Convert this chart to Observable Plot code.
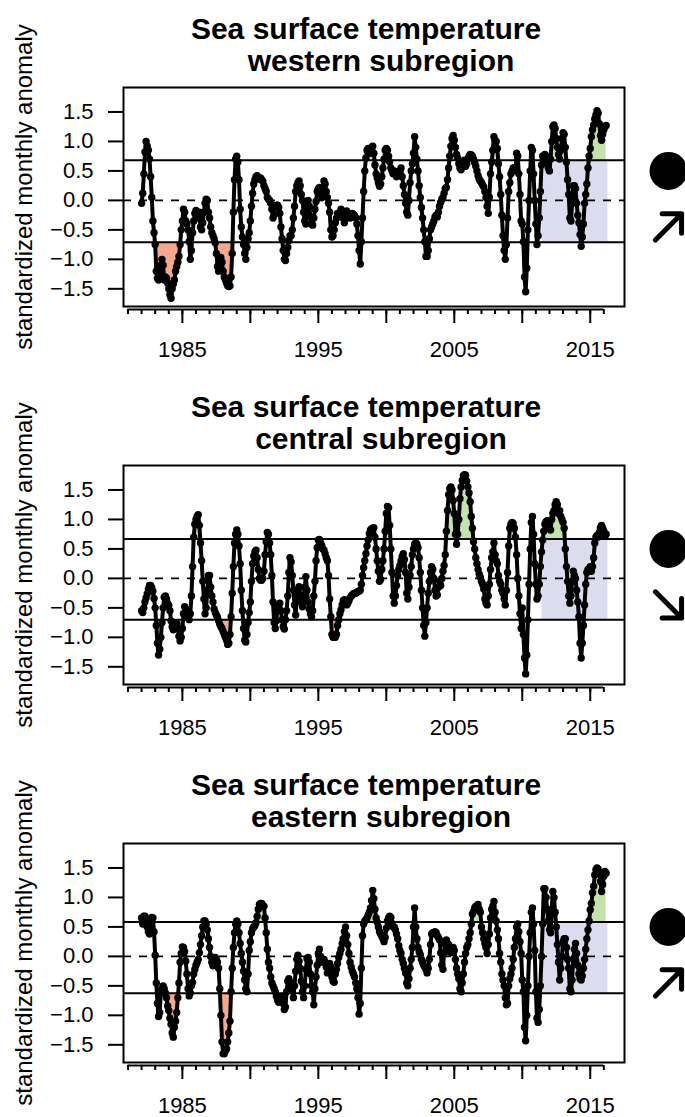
<!DOCTYPE html>
<html>
<head>
<meta charset="utf-8">
<script src="https://cdn.jsdelivr.net/npm/d3@7"></script>
<script src="https://cdn.jsdelivr.net/npm/@observablehq/plot@0.6"></script>
<style>
  html, body { margin: 0; padding: 0; background: #fff; overflow: hidden; }
  #chart svg { display: block; }
</style>
</head>
<body>
<div id="chart"></div>
<script>
// Standardized monthly SST anomalies, one value per month starting January 1982.
const firstYear = 1982;

const western = [
  -0.05, 0.12, 0.45, 0.82, 1.0, 0.92, 0.85, 0.7, 0.4, 0.05, -0.35, -0.55,
  -0.75, -1.2, -1.32, -1.35, -1.3, -1.1, -1.0, -1.1, -1.35, -1.3, -1.32, -1.4,
  -1.5, -1.6, -1.66, -1.5, -1.42, -1.35, -1.2, -1.12, -1.05, -0.95, -0.75, -0.5,
  -0.35, -0.15, -0.2, -0.35, -0.4, -0.5, -0.7, -1.0, -0.85, -0.55, -0.35, -0.22,
  -0.17, -0.25, -0.3, -0.2, -0.45, -0.5, -0.38, -0.2, -0.05, 0.02, 0.0, -0.2,
  -0.3, -0.45, -0.55, -0.6, -0.65, -0.72, -0.9, -1.12, -1.2, -1.1, -0.97, -1.05,
  -1.2, -1.3, -1.35, -1.4, -1.45, -1.46, -1.45, -1.3, -0.9, -0.2, 0.35, 0.7,
  0.75, 0.65, 0.35, -0.15, -0.45, -0.62, -0.75, -0.9, -1.0, -0.8, -0.65, -0.55,
  -0.35, -0.1, 0.12, 0.28, 0.35, 0.4, 0.42, 0.38, 0.36, 0.38, 0.35, 0.32,
  0.25, 0.2, 0.15, 0.05, 0.02, 0.0, -0.05, -0.15, -0.3, -0.25, -0.1, -0.08,
  -0.08, -0.12, -0.22, -0.45, -0.65, -0.85, -1.0, -1.02, -0.9, -0.8, -0.68, -0.6,
  -0.6, -0.5, -0.3, -0.1, 0.15, 0.25, 0.3, 0.33, 0.25, 0.1, 0.0, -0.2,
  -0.35, -0.4, -0.1, 0.0, -0.1, -0.28, -0.4, -0.42, -0.3, -0.15, -0.02, 0.15,
  0.2, 0.22, 0.12, 0.05, 0.2, 0.33, 0.28, 0.15, 0.05, -0.05, -0.2, -0.5,
  -0.62, -0.6, -0.5, -0.38, -0.3, -0.22, -0.28, -0.22, -0.15, -0.2, -0.3, -0.38,
  -0.2, -0.18, -0.22, -0.28, -0.3, -0.25, -0.22, -0.24, -0.26, -0.3, -0.4, -0.6,
  -0.85, -1.08, -0.7, -0.3, 0.15, 0.5, 0.72, 0.85, 0.88, 0.85, 0.8, 0.9,
  0.92, 0.8, 0.6, 0.45, 0.38, 0.3, 0.24, 0.28, 0.4, 0.55, 0.7, 0.85,
  0.88, 0.85, 0.75, 0.65, 0.55, 0.5, 0.45, 0.5, 0.48, 0.4, 0.42, 0.45,
  0.5, 0.55, 0.4, 0.25, 0.1, -0.05, -0.2, -0.25, 0.0, 0.3, 0.5, 0.62,
  0.8, 1.08, 0.9, 0.7, 0.5, 0.25, 0.05, -0.12, -0.3, -0.5, -0.7, -0.95,
  -0.95, -0.85, -0.65, -0.5, -0.45, -0.4, -0.35, -0.28, -0.25, -0.28, -0.2, -0.1,
  -0.03, 0.02, 0.05, 0.12, 0.2, 0.22, 0.35, 0.55, 0.75, 0.92, 1.05, 1.1,
  1.02, 0.9, 0.78, 0.72, 0.62, 0.55, 0.52, 0.6, 0.65, 0.68, 0.58, 0.62,
  0.7, 0.75, 0.78, 0.77, 0.75, 0.7, 0.64, 0.58, 0.5, 0.42, 0.36, 0.33,
  0.3, 0.26, 0.23, 0.15, 0.05, -0.1, -0.22, 0.05, 0.45, 0.65, 0.85, 1.08,
  1.02, 1.0, 0.88, 0.62, 0.4, 0.1, -0.25, -0.6, -0.85, -1.0, -0.75, -0.3,
  0.15, 0.3, 0.45, 0.5, 0.55, 0.55, 0.5, 0.8, 0.75, 0.45, 0.1, -0.35,
  -0.4, -0.7, -1.3, -1.55, -1.15, -0.5, 0.0, 0.5, 0.9, 0.85, 0.45, 0.0,
  -0.4, -0.75, -0.6, -0.3, 0.15, 0.6, 0.75, 0.76, 0.78, 0.75, 0.65, 0.55,
  0.5, 0.7, 1.0, 1.25, 1.28, 1.22, 1.05, 0.9, 0.78, 0.7, 0.85, 1.05,
  1.15, 1.12, 0.9, 0.65, 0.35, 0.1, -0.3, -0.35, -0.05, 0.25, 0.25, 0.2,
  -0.05, -0.25, -0.38, -0.58, -0.78, -0.62, -0.4, -0.05, 0.1, 0.28, 0.55, 0.75,
  0.88, 1.08, 1.2, 1.28, 1.38, 1.45, 1.52, 1.48, 1.3, 1.1, 1.02, 1.12,
  1.2, 1.25, 1.27
];

const central = [
  -0.55, -0.58, -0.5, -0.4, -0.33, -0.26, -0.18, -0.12, -0.12, -0.16, -0.22, -0.34,
  -0.5, -0.8, -1.1, -1.3, -1.2, -1.0, -0.75, -0.5, -0.32, -0.3, -0.35, -0.42,
  -0.46, -0.55, -0.72, -0.82, -0.87, -0.84, -0.8, -0.77, -0.85, -0.98, -1.06, -1.0,
  -0.85, -0.6, -0.48, -0.52, -0.6, -0.66, -0.7, -0.6, -0.3, 0.2, 0.7, 0.92,
  1.0, 1.05, 1.08, 0.9, 0.6, 0.3, -0.05, -0.35, -0.6, -0.5, -0.2, 0.05,
  0.05, -0.15, -0.3, -0.4, -0.52, -0.58, -0.62, -0.66, -0.72, -0.78, -0.82, -0.85,
  -0.9, -0.95, -1.0, -1.05, -1.12, -1.1, -0.95, -0.65, -0.25, 0.2, 0.6, 0.75,
  0.82, 0.75, 0.55, 0.25, -0.2, -0.55, -0.85, -1.05, -1.08, -0.95, -0.75, -0.58,
  -0.4, -0.05, 0.25, 0.38, 0.45, 0.48, 0.35, 0.15, 0.0, -0.03, -0.03, 0.0,
  0.12, 0.4, 0.62, 0.78, 0.75, 0.6, 0.4, 0.05, -0.4, -0.75, -0.85, -0.72,
  -0.5, -0.45, -0.42, -0.55, -0.7, -0.82, -0.86, -0.7, -0.55, -0.3, 0.1, 0.35,
  0.28, 0.05, -0.2, -0.45, -0.62, -0.35, -0.2, -0.14, -0.28, -0.4, -0.48, -0.35,
  -0.15, 0.03, -0.2, -0.4, -0.52, -0.6, -0.65, -0.55, -0.3, -0.05, 0.3, 0.52,
  0.65, 0.66, 0.6, 0.56, 0.5, 0.48, 0.42, 0.35, 0.3, 0.05, -0.35, -0.65,
  -0.95, -1.0, -1.0, -1.0, -0.95, -0.8, -0.7, -0.6, -0.53, -0.45, -0.38, -0.36,
  -0.4, -0.45, -0.42, -0.38, -0.33, -0.3, -0.28, -0.26, -0.25, -0.25, -0.24, -0.22,
  -0.22, -0.2, -0.1, 0.05, 0.18, 0.3, 0.42, 0.55, 0.65, 0.76, 0.82, 0.84,
  0.85, 0.86, 0.7, 0.5, 0.3, 0.12, -0.05, -0.02, 0.15, 0.3, 0.5, 0.8,
  1.1, 1.22, 1.2, 0.9, 0.5, 0.1, -0.3, -0.42, -0.3, -0.12, 0.05, 0.15,
  0.22, 0.3, 0.37, 0.42, 0.32, 0.1, -0.25, -0.35, -0.15, 0.05, 0.2, 0.4,
  0.5, 0.58, 0.6, 0.58, 0.52, 0.35, 0.1, -0.2, -0.5, -0.8, -0.98, -0.75,
  -0.5, -0.25, -0.05, 0.1, 0.2, 0.15, 0.0, -0.2, -0.3, -0.28, -0.15, -0.05,
  -0.12, 0.0, 0.12, 0.22, 0.4, 0.8, 1.15, 1.42, 1.52, 1.55, 1.5, 1.32,
  1.1, 0.75, 0.58, 0.75, 1.0, 1.35, 1.55, 1.66, 1.74, 1.76, 1.75, 1.65,
  1.55, 1.45, 1.3, 1.05, 0.85, 0.62, 0.5, 0.35, 0.25, 0.15, 0.07, 0.02,
  -0.05, -0.1, -0.18, -0.35, -0.42, -0.45, -0.3, -0.1, 0.15, 0.35, 0.45, 0.6,
  0.4, 0.3, 0.25, 0.05, -0.05, -0.1, -0.2, -0.25, -0.35, -0.45, -0.2, 0.1,
  0.55, 0.85, 0.92, 0.95, 0.93, 0.85, 0.7, 0.4, 0.0, -0.3, -0.6, -0.85,
  -0.5, -0.95, -1.35, -1.62, -1.3, -0.7, -0.1, 0.5, 0.95, 1.05, 0.75, 0.25,
  -0.1, -0.35, -0.3, -0.1, 0.2, 0.45, 0.65, 0.8, 0.92, 0.96, 0.98, 0.9,
  0.85, 0.82, 1.0, 1.1, 1.15, 1.25, 1.3, 1.25, 1.1, 1.15, 1.05, 1.0,
  0.95, 0.85, 0.5, 0.2, -0.05, -0.3, -0.42, -0.3, -0.05, 0.12, 0.05, 0.0,
  -0.2, -0.4, -0.65, -1.1, -1.35, -1.1, -0.8, -0.45, -0.1, 0.1, 0.15, 0.12,
  0.2, 0.12, 0.2, 0.35, 0.6, 0.7, 0.73, 0.7, 0.78, 0.86, 0.9, 0.85,
  0.8, 0.72, 0.75
];

const eastern = [
  0.65, 0.55, 0.68, 0.68, 0.6, 0.5, 0.42, 0.38, 0.58, 0.66, 0.65, 0.42,
  0.02, -0.45, -0.8, -1.02, -0.95, -0.62, -0.55, -0.5, -0.55, -0.62, -0.7, -0.84,
  -0.92, -1.05, -1.15, -1.3, -1.37, -1.2, -1.1, -0.95, -0.7, -0.45, -0.1, 0.05,
  0.16, 0.15, 0.08, -0.08, -0.3, -0.55, -0.67, -0.62, -0.5, -0.44, -0.3, -0.22,
  -0.15, -0.1, -0.05, 0.06, 0.2, 0.35, 0.5, 0.6, 0.6, 0.55, 0.45, 0.3,
  0.15, 0.0, -0.1, -0.16, -0.05, -0.02, -0.05, -0.1, -0.2, -0.55, -1.0, -1.45,
  -1.65, -1.65, -1.6, -1.57, -1.45, -1.3, -1.1, -0.6, -0.2, 0.15, 0.4, 0.55,
  0.6, 0.55, 0.4, 0.22, 0.05, -0.1, -0.25, -0.4, -0.55, -0.6, -0.3, 0.1,
  0.25, 0.4, 0.47, 0.5, 0.52, 0.57, 0.68, 0.8, 0.88, 0.9, 0.9, 0.85,
  0.85, 0.65, 0.4, 0.12, -0.1, -0.2, -0.35, -0.45, -0.5, -0.55, -0.6, -0.68,
  -0.74, -0.78, -0.7, -0.68, -0.72, -0.8, -0.9, -0.86, -0.6, -0.42, -0.38, -0.5,
  -0.45, -0.58, -0.7, -0.5, -0.25, -0.05, 0.02, -0.08, -0.2, -0.42, -0.6, -0.7,
  -0.5, -0.22, -0.04, -0.02, -0.1, -0.3, -0.5, -0.6, -0.82, -0.55, -0.35, -0.15,
  0.05, 0.12, 0.0, -0.08, -0.1, -0.05, -0.1, -0.18, -0.28, -0.15, -0.12, -0.18,
  -0.35, -0.42, -0.44, -0.3, -0.22, -0.12, -0.02, 0.05, 0.12, 0.22, 0.3, 0.42,
  0.5, 0.35, 0.2, 0.05, -0.1, -0.18, -0.25, -0.3, -0.35, -0.45, -0.55, -0.7,
  -0.98, -0.8, -0.2, 0.35, 0.55, 0.6, 0.62, 0.65, 0.7, 0.75, 0.82, 0.95,
  1.12, 0.98, 0.8, 0.65, 0.58, 0.5, 0.42, 0.38, 0.34, 0.3, 0.25, 0.32,
  0.48, 0.6, 0.65, 0.68, 0.66, 0.56, 0.5, 0.5, 0.45, 0.38, 0.3, 0.18,
  0.1, 0.05, -0.05, -0.12, -0.2, -0.28, -0.45, -0.5, -0.38, -0.2, -0.05, 0.15,
  0.5, 0.82, 0.5, 0.3, 0.15, 0.08, 0.03, -0.05, -0.1, -0.15, -0.18, -0.22,
  -0.28, -0.2, -0.05, 0.2, 0.38, 0.4, 0.4, 0.42, 0.4, 0.35, 0.32, 0.28,
  0.06, -0.15, -0.22, 0.05, 0.2, 0.28, 0.22, 0.2, 0.12, 0.06, 0.1, 0.15,
  0.1, -0.05, -0.2, -0.3, -0.38, -0.55, -0.6, -0.45, -0.3, -0.1, 0.05, 0.15,
  0.2, 0.3, 0.4, 0.55, 0.72, 0.76, 0.82, 0.85, 0.8, 0.88, 0.8, 0.75,
  0.5, 0.4, 0.3, 0.22, 0.15, 0.05, 0.2, 0.38, 0.65, 0.8, 0.85, 0.93,
  0.75, 0.6, 0.45, 0.3, 0.05, -0.1, -0.3, -0.4, -0.5, -0.7, -0.82, -0.8,
  -0.5, -0.38, -0.3, -0.2, -0.05, 0.15, 0.3, 0.5, 0.55, 0.42, 0.25, 0.05,
  -0.4, -0.6, -1.2, -1.43, -1.0, -0.5, 0.0, 0.4, 0.75, 0.82, 0.55, 0.1,
  -0.6, -1.05, -1.12, -0.9, -0.5, 0.0, 0.55, 1.15, 1.15, 1.0, 0.8, 0.6,
  0.45, 0.4, 0.8, 1.1, 1.0, 0.75, 0.5, 0.2, -0.1, -0.4, -0.2, 0.0,
  0.25, 0.3, 0.3, 0.15, -0.05, -0.2, -0.55, -0.6, -0.4, -0.05, 0.12, 0.22,
  0.05, -0.15, -0.3, -0.38, -0.4, -0.33, -0.2, -0.05, 0.12, 0.3, 0.45, 0.6,
  0.79, 0.9, 1.08, 1.19, 1.38, 1.47, 1.5, 1.48, 1.41, 1.27, 1.1, 1.22,
  1.36, 1.44, 1.41
];

// Panel descriptors
const subregions = ["western", "central", "eastern"];
const series = [western, central, eastern];
const upperBound = [0.68, 0.667, 0.585];   // mean + 1 sd
const lowerBound = [-0.71, -0.70, -0.625]; // mean - 1 sd
const trend = ["up", "down", "up"];        // direction over the last five years
const recentWindow = [2011.45, 2016.3];    // last five years of record

// Axis ticks
const yTicks = [-1.5, -1.0, -0.5, 0.0, 0.5, 1.0, 1.5];
const majorYears = [1985, 1990, 1995, 2000, 2005, 2010, 2015];
const labelYears = [1985, 1995, 2005, 2015];
const minorYears = d3.range(1981, 2017);

const font = "'Liberation Sans', Arial, Helvetica, sans-serif";
const statusLevel = 0.5;
const trendLevel = -0.45;

function panel(values, i) {
  const data = values.map((v, m) => ({t: firstYear + m / 12, v}));
  const hi = upperBound[i];
  const lo = lowerBound[i];
  return Plot.plot({
    width: 685,
    height: 378,
    marginTop: 87,
    marginBottom: 72,
    marginLeft: 123,
    marginRight: 61,
    x: {domain: [1980.67, 2017.52]},
    y: {domain: [-1.8, 1.915]},
    style: {fontFamily: font, background: "white", color: "black"},
    marks: [
      // recent five-year window between the ±1 sd lines
      Plot.rect([recentWindow], {x1: (d) => d[0], x2: (d) => d[1], y1: lo, y2: hi, fill: "#dcdcef"}),
      // excursions beyond ±1 sd
      Plot.areaY(data, {x: "t", y1: lo, y2: (d) => Math.min(d.v, lo), fill: "#f6a88e"}),
      Plot.areaY(data, {x: "t", y1: hi, y2: (d) => Math.max(d.v, hi), fill: "#c2e4ac"}),
      Plot.ruleY([hi, lo], {stroke: "black", strokeWidth: 2}),
      Plot.ruleY([0], {stroke: "black", strokeWidth: 1.6, strokeDasharray: "8,8"}),
      Plot.line(data, {x: "t", y: "v", stroke: "black", strokeWidth: 4}),
      Plot.dot(data, {x: "t", y: "v", r: 3.7, fill: "black"}),
      Plot.frame({stroke: "black", strokeWidth: 2}),
      // y axis
      Plot.axisY(yTicks, {anchor: "left", tickSize: 15, tickPadding: 15, strokeWidth: 2,
        tickFormat: d3.format(".1f"), fontSize: 22, label: null}),
      // x axis: line, minor and major ticks, labels
      Plot.ruleY([-1.8], {x1: minorYears[0], x2: minorYears[minorYears.length - 1], dy: 3, stroke: "black", strokeWidth: 2}),
      Plot.axisX(minorYears, {anchor: "bottom", tickSize: 5, dy: 3, strokeWidth: 2, tickFormat: () => "", label: null}),
      Plot.axisX(majorYears, {anchor: "bottom", tickSize: 14, dy: 3, strokeWidth: 2, tickFormat: () => "", label: null}),
      Plot.axisX(labelYears, {anchor: "bottom", tickSize: 0, tickPadding: 35, fontSize: 22, tickFormat: (d) => String(d), label: null}),
      // axis title
      Plot.text(["standardized monthly anomaly"], {text: (d) => d, frameAnchor: "left", dx: -99, dy: -10, rotate: -90,
        fontSize: 24, textAnchor: "middle", lineAnchor: "middle", fill: "black"}),
      // panel title
      Plot.text(["Sea surface temperature"], {text: (d) => d, frameAnchor: "top", dx: -8, dy: -49, lineAnchor: "bottom",
        fontSize: 30, fontWeight: "bold", fill: "black"}),
      Plot.text([`${subregions[i]} subregion`], {text: (d) => d, frameAnchor: "top", dx: 7, dy: -17, lineAnchor: "bottom",
        fontSize: 30, fontWeight: "bold", fill: "black"}),
      // status and trend symbols
      Plot.dot([statusLevel], {y: (d) => d, frameAnchor: "right", dx: 44, r: 19, fill: "black"}),
      Plot.vector([trendLevel], {y: (d) => d, frameAnchor: "right", dx: 44, length: 37, r: 6.5,
        rotate: trend[i] === "up" ? 45 : 135, anchor: "middle", stroke: "black", strokeWidth: 5})
    ]
  });
}

const chart = document.getElementById("chart");
series.forEach((values, i) => chart.appendChild(panel(values, i)));
</script>
</body>
</html>
